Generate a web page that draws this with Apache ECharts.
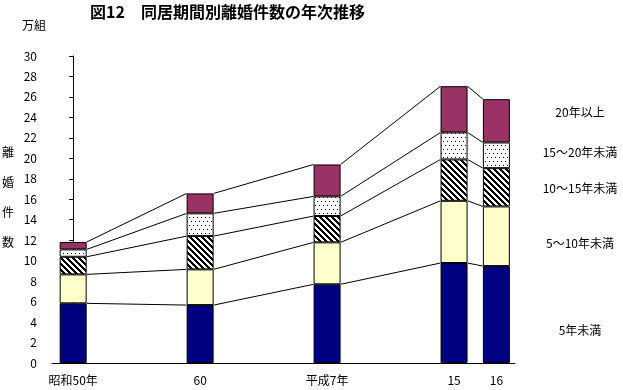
<!DOCTYPE html>
<html><head><meta charset="utf-8">
<script src="https://cdn.jsdelivr.net/npm/echarts@6/dist/echarts.min.js"></script>
<style>html,body{margin:0;padding:0;background:#fff}#c{width:623px;height:390px}</style>
</head><body><div id="c"></div>
<script>
// ---- data (万組) ----
const categories = ['昭和50年', '60', '平成7年', '15', '16'];
const xPositions = [0, 3, 6, 9, 10];
const seriesNames = ['5年未満', '5～10年未満', '10～15年未満', '15～20年未満', '20年以上'];
const under5 = [5.83, 5.66, 7.69, 9.77, 9.47];
const y5to10 = [2.83, 3.49, 4.10, 6.08, 5.83];
const y10to15 = [1.72, 3.25, 2.57, 4.04, 3.74];
const y15to20 = [0.72, 2.22, 1.92, 2.64, 2.51];
const over20 = [0.72, 1.95, 3.12, 4.52, 4.23];
const yTicks = [0, 30, 2];

const FONT = '"Noto Sans CJK JP", sans-serif';
function makePattern(kind) {
  const c = document.createElement('canvas');
  const n = kind === 'hatch' ? 6 : 8;
  c.width = n; c.height = n;
  const ctx = c.getContext('2d');
  ctx.fillStyle = '#fff'; ctx.fillRect(0, 0, n, n);
  ctx.fillStyle = '#000';
  if (kind === 'hatch') {
    for (let y = 0; y < n; y++) for (let x = 0; x < n; x++) {
      if (((x - y) % n + n) % n < 3) ctx.fillRect(x, y, 1, 1);
    }
  } else {
    [[1,1],[5,1],[3,5],[7,5]].forEach(p => ctx.fillRect(p[0], p[1], 1, 1));
  }
  return {image: c, repeat: 'repeat'};
}
const colors = ['#000080', '#FFFFCC', makePattern('hatch'), makePattern('dots'), '#993366'];
const values = [under5, y5to10, y10to15, y15to20, over20];

const halfW = 13.5;
const series = values.map((arr, k) => ({
  name: seriesNames[k], type: 'bar', stack: 'a', barWidth: 27,
  itemStyle: {color: colors[k], borderColor: '#000', borderWidth: 1},
  encode: {x: 1, y: 0},
  data: arr.map((v, i) => [v, xPositions[i]]),
  silent: true
}));
// connecting lines
const lineData = [];
const cum = xPositions.map(() => 0);
values.forEach(arr => {
  arr.forEach((v, i) => cum[i] += v);
  for (let i = 0; i < xPositions.length - 1; i++) {
    lineData.push([xPositions[i], cum[i], xPositions[i + 1], cum[i + 1]]);
  }
});
series.push({
  type: 'custom', silent: true, z: 1,
  encode: {x: [0, 2], y: [1, 3]},
  data: lineData,
  renderItem: function (params, api) {
    const p1 = api.coord([api.value(0), api.value(1)]);
    const p2 = api.coord([api.value(2), api.value(3)]);
    return {type: 'line', shape: {x1: p1[0] + halfW, y1: p1[1], x2: p2[0] - halfW, y2: p2[1]},
      style: {stroke: '#000', lineWidth: 1}};
  }
});

const labelY = [330, 243, 188, 152, 112];
const graphics = [
  {type: 'text', left: 90, top: 4, style: {text: '図12　同居期間別離婚件数の年次推移', font: 'bold 16px ' + FONT, fill: '#000'}},
  {type: 'text', left: 22, top: 19, style: {text: '万組', font: '12px ' + FONT, fill: '#000'}},
  {type: 'text', x: 8, y: 197, style: {text: '離\n婚\n件\n数', font: '12px ' + FONT, fill: '#000', align: 'center', verticalAlign: 'middle', lineHeight: 30}}
];
seriesNames.forEach((n, k) => graphics.push({type: 'text', x: 580, y: labelY[k],
  style: {text: n, font: '12px ' + FONT, fill: '#000', align: 'center', verticalAlign: 'middle'}}));

const chart = echarts.init(document.getElementById('c'), null, {renderer: 'canvas'});
chart.setOption({
  animation: false,
  backgroundColor: '#fff',
  grid: {left: 52, right: 108, top: 56, bottom: 27, containLabel: false},
  xAxis: {
    type: 'value', min: -0.5, max: 10.44,
    splitLine: {show: false},
    axisLine: {show: true, lineStyle: {color: '#000', width: 1}},
    axisTick: {show: false},
    axisLabel: {customValues: xPositions, margin: 11, color: '#000', fontFamily: FONT, fontSize: 12,
      formatter: v => categories[xPositions.indexOf(v)] || ''}
  },
  yAxis: {
    type: 'value', min: yTicks[0], max: yTicks[1], interval: yTicks[2],
    splitLine: {show: false},
    axisLine: {show: true, lineStyle: {color: '#000', width: 1}},
    axisTick: {show: true, length: 4, lineStyle: {color: '#000'}},
    axisLabel: {margin: 15, color: '#000', fontFamily: FONT, fontSize: 12}
  },
  graphic: graphics,
  series: series
});
</script></body></html>
